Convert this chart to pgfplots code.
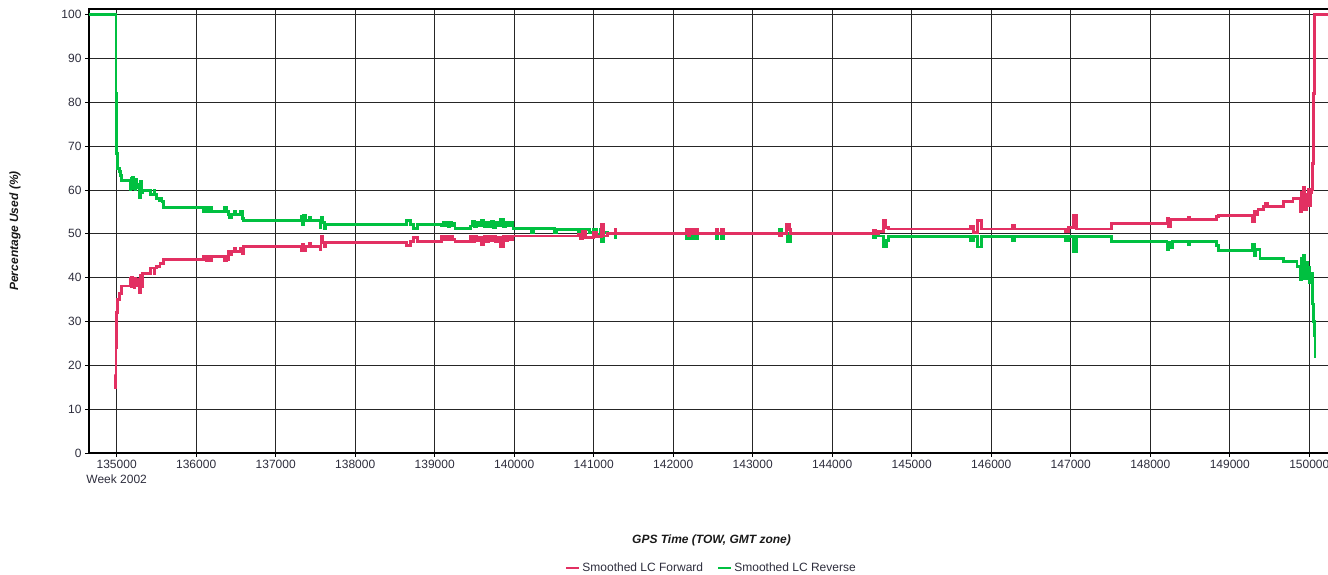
\documentclass[border=0pt]{standalone}
\usepackage{fontspec}
\setmainfont{Liberation Sans}
\usepackage{pgfplots}
\pgfplotsset{compat=1.18}
\definecolor{fwdred}{RGB}{226,48,98}
\definecolor{revgreen}{RGB}{0,192,64}
\definecolor{ticktext}{RGB}{45,45,60}

\begin{document}
\begin{tikzpicture}
\useasboundingbox (0,0) rectangle (1328pt,575pt);
\begin{axis}[
    at={(89pt,122pt)},
    anchor=south west,
    scale only axis,
    width=1245pt,
    height=444pt,
    xmin=134652, xmax=150311,
    ymin=0, ymax=101.3,
    xtick={135000,136000,...,150000},
    xticklabels={{135000\\Week 2002},136000,137000,138000,139000,140000,141000,142000,143000,144000,145000,146000,147000,148000,149000,150000},
    xticklabel style={align=center, font=\fontsize{12}{15}\selectfont, text=ticktext},
    ytick={0,10,...,100},
    yticklabel style={font=\fontsize{12}{14}\selectfont, text=ticktext},
    /pgf/number format/assume math mode=true,
    scaled x ticks=false,
    x tick label style={/pgf/number format/set thousands separator={}},
    tick align=outside,
    major tick length=4pt,
    tick style={black, line width=0.8pt},
    xtick pos=bottom, ytick pos=left,
    grid=major,
    major grid style={black!85, line width=0.9pt},
    axis line style={black, line width=2.4pt},
    xlabel={GPS Time (TOW, GMT zone)},
    xlabel style={at={(axis description cs:0.5,-0.196)}, anchor=center, font=\bfseries\itshape\fontsize{12}{14}\selectfont, text=black!90},
    ylabel={Percentage Used (\%)},
    ylabel style={at={(axis description cs:-0.0595,0.5)}, anchor=center, font=\bfseries\itshape\fontsize{12}{14}\selectfont, text=black!90},
    legend columns=2,
    reverse legend,
    legend style={at={(axis description cs:0.5,-0.259)}, anchor=center, draw=none, fill=none,
        font=\fontsize{12}{14}\selectfont, text=ticktext,
        /tikz/every even column/.append style={column sep=12pt}},
    legend image code/.code={\draw[#1, line width=2.2pt] (0pt,0pt) -- (13pt,0pt);},
    const plot,
]
% Smoothed LC Reverse
\addplot[revgreen, line width=2.9pt] coordinates {
(134652,100) (134991,82) (134994,68.3) (135005,64.9) (135030,64.2) (135045,63.3) (135063,62.2)
(135170,60.2) (135180,62.6) (135190,60.4) (135200,62.8) (135210,60.3) (135220,62.2) (135230,60.0)
(135240,62.5) (135255,60.5) (135270,61.2) (135285,58.2) (135300,62.0) (135310,59.5) (135330,59.9)
(135420,58.95) (135470,60.0) (135480,58.95) (135500,58.0) (135540,57.5) (135560,58.0) (135570,57.3)
(135586,56.1) (136090,55.2) (136130,56.0) (136150,55.2) (136170,56.0) (136190,55.2) (136360,56.0) (136380,55.2)
(136404,54.45) (136420,53.8) (136440,54.45) (136480,55.0) (136490,54.45) (136560,55.1) (136580,53.6)
(136593,53.1) (137327,54.0) (137340,52.2) (137355,54.2) (137370,53.1) (137420,53.8) (137440,53.1)
(137560,51.4) (137570,53.8) (137590,52.5) (137610,51.2) (137625,52.2)
(138647,53.0) (138690,52.2) (138730,51.2) (138780,52.2)
(139090,51.8) (139110,52.6) (139130,51.8) (139150,52.5) (139170,51.7) (139190,52.5) (139210,51.9) (139230,52.4) (139255,51.2)
(139445,51.8) (139475,52.8) (139500,51.6) (139530,52.7) (139560,51.8) (139590,53.0) (139620,51.6) (139650,52.5)
(139680,51.7) (139710,52.8) (139740,51.5) (139770,52.7) (139800,51.9) (139830,53.2) (139860,51.6) (139890,52.6)
(139920,51.8) (139950,52.5) (139985,51.2)
(140220,50.2) (140240,51.2) (140510,50.2) (140530,51.0) (140810,50.5) (140830,51.0) (140860,50.2) (140900,51.0)
(140950,50.3) (141000,51.1) (141040,49.8) (141080,51.0) (141100,48.2) (141120,50.3) (141170,50.0) (141268,49.2) (141280,50)
(142170,49.0) (142190,51.0) (142210,49.0) (142240,50.2) (142280,49.0) (142300,50) (142540,49.0) (142560,50) (142610,49.0) (142630,50)
(143340,51.0) (143360,50) (143440,48.2) (143480,50)
(144520,49.2) (144540,50) (144580,49.5) (144640,47.0) (144680,48.5) (144707,49.3)
(145740,48.5) (145780,49.3) (145830,47.0) (145880,49.3) (146270,48.4) (146290,49.3)
(146930,48.5) (146970,49.3) (147040,46.0) (147075,49.3)
(147516,48.3) (148210,46.5) (148230,48.0) (148255,46.8) (148275,48.3) (148477,47.6) (148490,48.3)
(148832,47.4) (148860,46.2) (149290,47.5) (149310,45.0) (149330,46.5) (149380,44.4) (149675,43.6) (149845,42.6)
(149885,39.5) (149900,44.5) (149915,40.5) (149930,45.0) (149945,39.8) (149960,43.5) (149975,41.5) (149990,42.3)
(150005,39.0) (150020,41.0) (150035,38.0) (150045,34.0) (150055,30) (150063,26.8) (150072,22) (150078,22)
};
\addlegendentry{Smoothed LC Reverse}
% Smoothed LC Forward
\addplot[fwdred, line width=2.9pt] coordinates {
(134985,18) (134988,15) (134992,24) (134995,30) (135000,32) (135010,35) (135030,36.3) (135060,38.1)
(135170,39.8) (135180,37.9) (135190,40) (135200,38) (135210,39.7) (135220,37.8) (135230,39.9) (135240,38.2)
(135255,39.5) (135270,38.5) (135285,36.5) (135300,40.5) (135310,38) (135325,40.9)
(135420,42.2) (135470,41.0) (135480,42.2) (135500,42.6) (135545,43.2) (135586,44.1)
(136090,44.9) (136130,44.0) (136150,44.9) (136170,44.0) (136190,44.9) (136360,44.0) (136380,44.9) (136395,44.2)
(136404,46.0) (136420,45.2) (136440,46.0) (136480,46.6) (136490,46.0) (136560,46.7) (136580,45.5) (136593,47.1)
(137327,46.2) (137340,47.5) (137355,46.2) (137370,47.1) (137420,47.8) (137440,47.1) (137560,46.5) (137570,49.3)
(137590,48.0) (137610,47.0) (137625,48.1)
(138647,47.3) (138690,48.3) (138730,49.1) (138780,48.3)
(139090,49.3) (139110,48.6) (139130,49.4) (139150,48.6) (139170,49.3) (139190,48.7) (139210,49.4) (139230,48.8) (139255,48.3)
(139445,49.3) (139475,48.2) (139500,49.4) (139530,48.5) (139560,49.2) (139590,47.5) (139620,49.4) (139650,48.3)
(139680,49.3) (139710,48.5) (139740,49.5) (139770,48.2) (139800,49.2) (139830,47.2) (139860,49.4) (139890,48.4)
(139920,49.3) (139950,48.6) (139985,49.5)
(140810,49.8) (140830,49.0) (140860,50.5) (140900,49.2) (141000,50.3) (141040,49.3) (141100,52.1) (141120,49.5)
(141170,50) (141268,51.0) (141280,50)
(142170,51.0) (142190,49.5) (142210,51.0) (142240,50.0) (142280,51.0) (142300,50) (142540,51.0) (142560,50) (142610,51.0) (142630,50)
(143340,49.5) (143360,50) (143420,52.2) (143460,51) (143480,50)
(144520,50.8) (144540,50) (144580,50.5) (144640,53.0) (144670,51.5) (144707,51.1)
(145740,51.8) (145780,50.4) (145830,53.0) (145880,51.1) (146270,52.0) (146290,51.1)
(146930,50.5) (146970,51.5) (147040,54.2) (147075,51.1)
(147516,52.3) (148210,53.5) (148230,51.6) (148255,53.3) (148477,53.8) (148490,53.3)
(148832,53.9) (148860,54.2) (149290,52.7) (149310,55.0) (149330,54.5) (149355,55.6) (149420,56.3) (149450,57.0)
(149470,56.3) (149670,57.3) (149795,58.0)
(149885,55.0) (149900,59.5) (149915,56.0) (149930,60.5) (149945,55.5) (149960,59.0) (149975,57.5) (149990,60.2)
(150005,56.5) (150020,59.5) (150030,60.1) (150040,66) (150048,71.4) (150056,82) (150063,90) (150070,100) (150311,100)
};
\addlegendentry{Smoothed LC Forward}
\end{axis}
\end{tikzpicture}
\end{document}
